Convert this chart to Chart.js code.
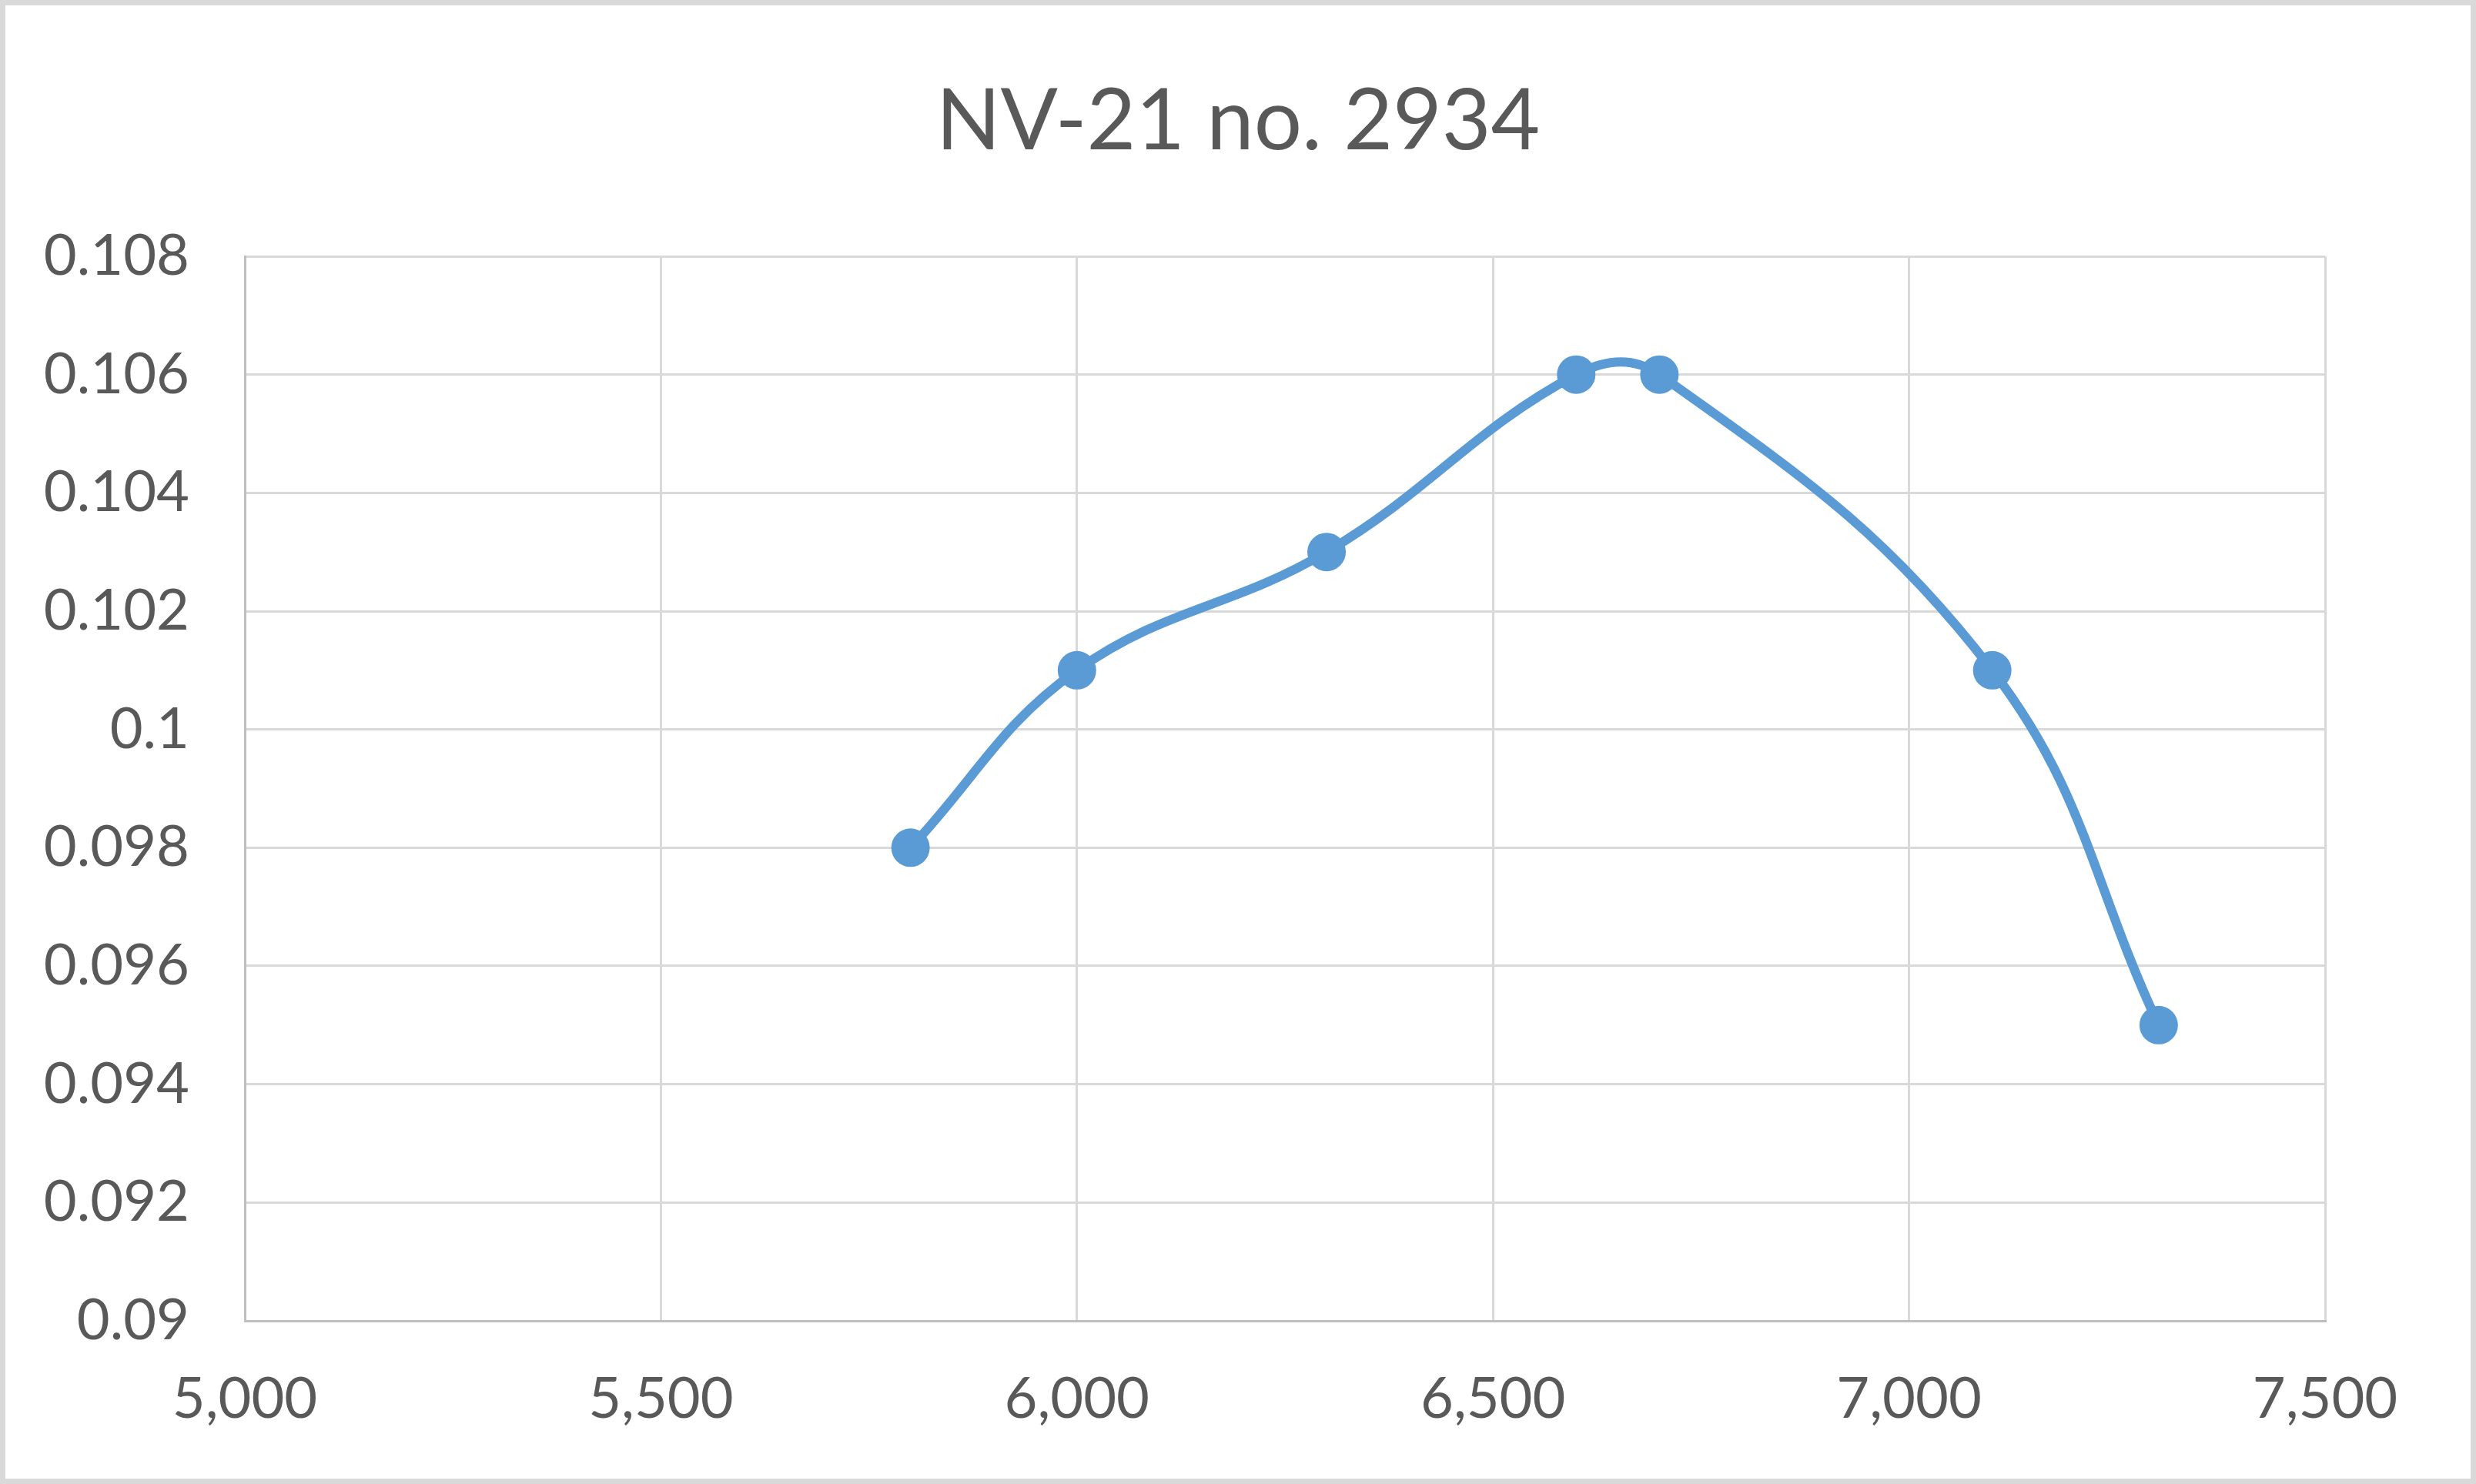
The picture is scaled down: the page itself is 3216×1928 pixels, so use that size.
<!DOCTYPE html>
<html>
<head>
<meta charset="utf-8">
<script src="https://cdn.jsdelivr.net/npm/chart.js@4.4.1/dist/chart.umd.min.js"></script>
<style>
    html, body { margin: 0; padding: 0; background: #fff; }
    canvas { display: block; }
</style>
</head>
<body>
<canvas id="chart" width="3216" height="1928"></canvas>
<script>
const chartTitle = 'NV-21 no. 2934';
const xValues = [5800, 6000, 6300, 6600, 6700, 7100, 7300];
const yValues = [0.098, 0.101, 0.103, 0.106, 0.106, 0.101, 0.095];
const xTickLabels = ['5,000', '5,500', '6,000', '6,500', '7,000', '7,500'];
const yTickLabels = ['0.09', '0.092', '0.094', '0.096', '0.098', '0.1', '0.102', '0.104', '0.106', '0.108'];

const seriesColor = '#5B9BD5';
const textColor = '#595959';
const gridColor = '#d9d9d9';

// Outer frame like the Excel chart area border
const framePlugin = {
    id: 'frame',
    afterDraw(chart) {
        const ctx = chart.ctx;
        ctx.save();
        ctx.strokeStyle = '#d9d9d9';
        ctx.lineWidth = 14;
        ctx.strokeRect(0, 0, chart.width, chart.height);
        ctx.restore();
    }
};

const points = xValues.map((x, i) => ({ x: x, y: yValues[i] }));

new Chart(document.getElementById('chart'), {
    type: 'line',
    data: {
        datasets: [{
            data: points,
            borderColor: seriesColor,
            backgroundColor: seriesColor,
            borderWidth: 12,
            tension: 0.4,
            pointRadius: 25,
            pointHoverRadius: 25,
            pointBorderWidth: 0,
            pointBackgroundColor: seriesColor
        }]
    },
    options: {
        responsive: false,
        animation: false,
        devicePixelRatio: 1,
        layout: {
            padding: { top: 93, right: 0, bottom: 0, left: 0 }
        },
        plugins: {
            legend: { display: false },
            tooltip: { enabled: false },
            title: {
                display: true,
                text: chartTitle,
                color: textColor,
                font: { family: 'Lato', size: 110, weight: 'normal' },
                padding: { top: 0, bottom: 108 }
            }
        },
        scales: {
            x: {
                type: 'linear',
                min: 5000,
                max: 7500,
                afterFit(scale) { scale.height = 212; },
                ticks: {
                    stepSize: 500,
                    color: textColor,
                    padding: 58,
                    maxRotation: 0,
                    font: { family: 'Lato', size: 74 },
                    callback: (value, index) => xTickLabels[index] ?? value
                },
                grid: { color: gridColor, lineWidth: 3, drawTicks: false },
                border: { color: '#bfbfbf', width: 3 }
            },
            y: {
                min: 0.09,
                max: 0.108,
                afterFit(scale) { scale.width = 318; },
                ticks: {
                    stepSize: 0.002,
                    color: textColor,
                    padding: 72,
                    font: { family: 'Lato', size: 74 },
                    callback: (value, index) => yTickLabels[index] ?? value
                },
                grid: { color: gridColor, lineWidth: 3, drawTicks: false },
                border: { color: '#bfbfbf', width: 3 }
            },
            // empty right-hand spacer so the title stays centred on the canvas
            spacer: {
                position: 'right',
                min: 0,
                max: 1,
                afterFit(scale) { scale.width = 196; },
                ticks: { display: false },
                grid: { display: false, drawTicks: false },
                border: { display: false }
            }
        }
    },
    plugins: [framePlugin]
});
</script>
</body>
</html>
